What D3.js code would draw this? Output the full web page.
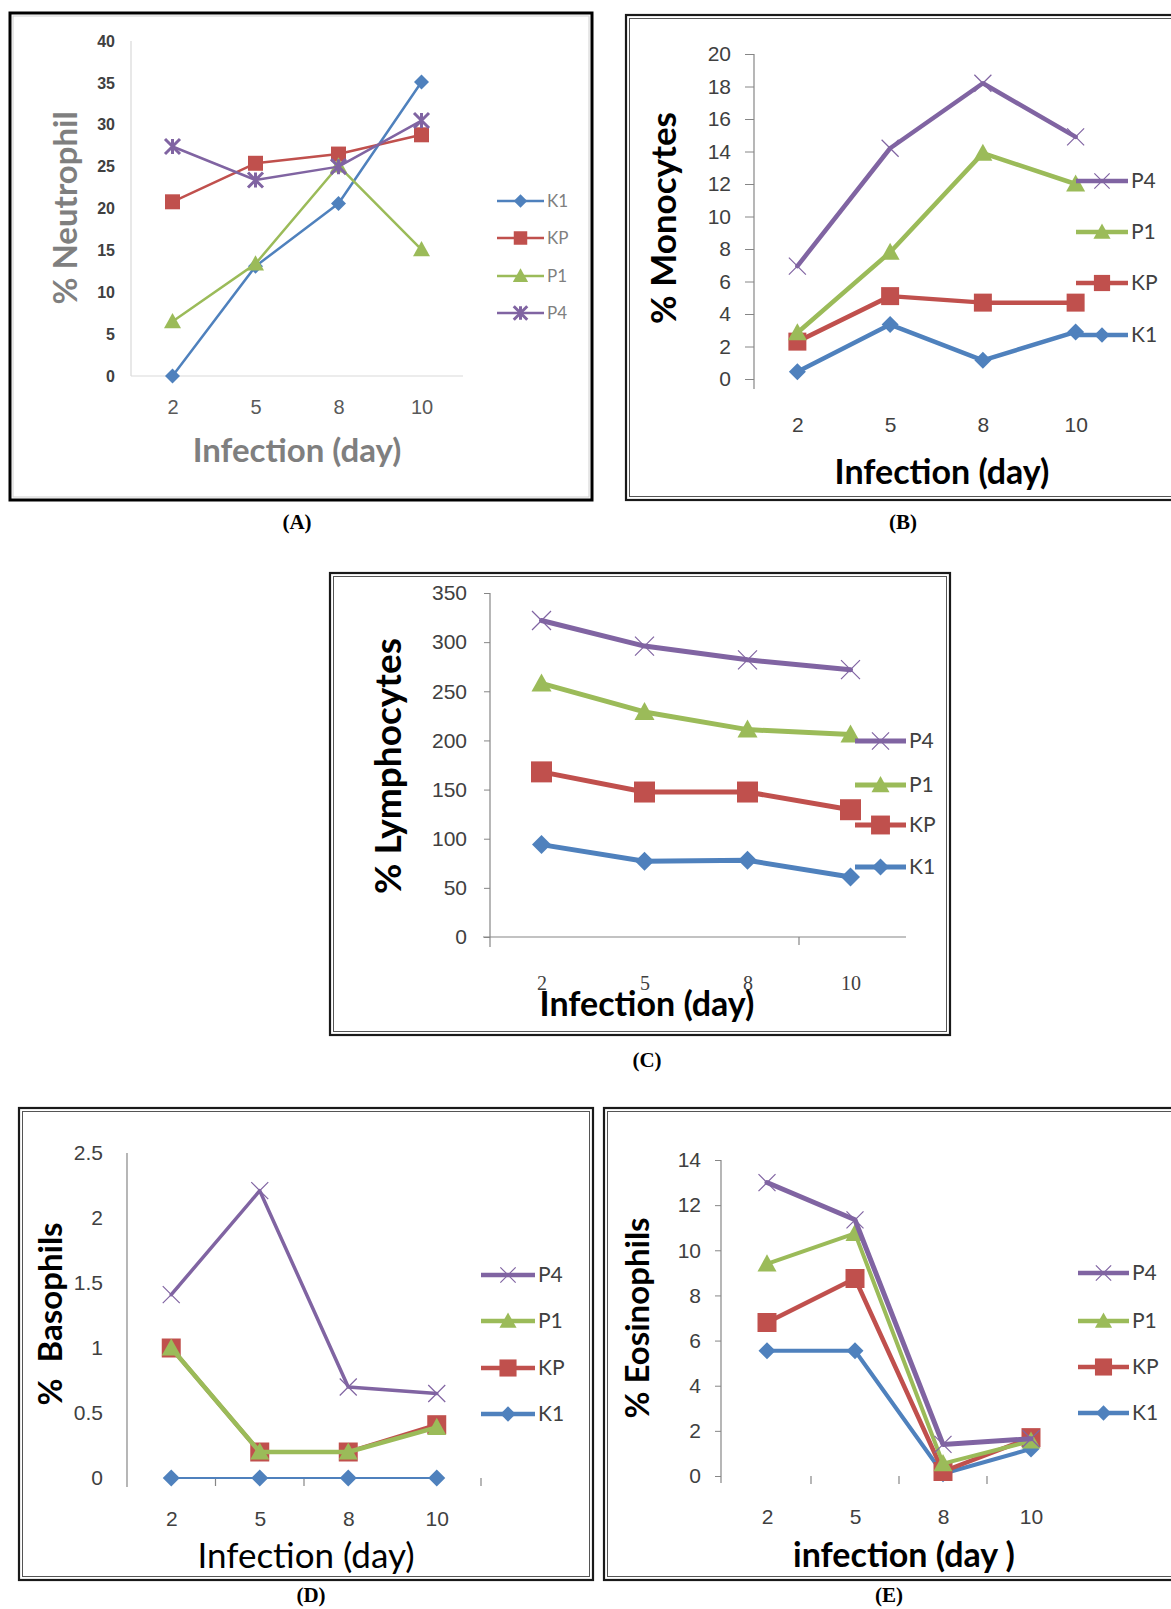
<html><head>
<meta charset="UTF-8">
<title>Leukocyte counts after infection</title>
<style>
  body { margin: 0; padding: 0; background: #fff; }
  svg { display: block; }
</style>
</head>
<body>
<div id="chart"></div>
<script src="https://cdn.jsdelivr.net/npm/d3@7"></script>
<script>
  // ---- data ----
  const days = ["2", "5", "8", "10"];
  const seriesNames = ["K1", "KP", "P1", "P4"];
  const seriesColors = ["#4f81bd", "#c0504d", "#9bbb59", "#8064a2"];

  // rows in series order: K1, KP, P1, P4
  const neutrophil = [
    [0, 13.1, 20.6, 35.1],
    [20.8, 25.4, 26.5, 28.8],
    [6.5, 13.4, 25.1, 15.1],
    [27.4, 23.4, 25.0, 30.5]
  ];
  const monocytes = [
    [0.45, 3.35, 1.15, 2.9],
    [2.3, 5.1, 4.7, 4.7],
    [2.85, 7.8, 13.9, 12.0],
    [6.95, 14.2, 18.2, 14.9]
  ];
  const lymphocytes = [
    [94, 77, 78, 61],
    [168, 147.5, 147.5, 129.5],
    [258, 229, 211, 206],
    [322, 296, 282, 272]
  ];
  const basophils = [
    [0, 0, 0, 0],
    [1.0, 0.2, 0.2, 0.41],
    [1.0, 0.2, 0.2, 0.39],
    [1.41, 2.21, 0.7, 0.65]
  ];
  const eosinophils = [
    [5.55, 5.55, 0.1, 1.2],
    [6.8, 8.75, 0.2, 1.7],
    [9.4, 10.75, 0.55, 1.55],
    [13.0, 11.35, 1.4, 1.65]
  ];

  const neutrophilTicks = [0, 5, 10, 15, 20, 25, 30, 35, 40];
  const monocyteTicks = [0, 2, 4, 6, 8, 10, 12, 14, 16, 18, 20];
  const lymphocyteTicks = [0, 50, 100, 150, 200, 250, 300, 350];
  const basophilTicks = [0, 0.5, 1, 1.5, 2, 2.5];
  const eosinophilTicks = [0, 2, 4, 6, 8, 10, 12, 14];

  const W = 1171, H = 1609;
  const svg = d3.select("#chart").append("svg")
    .attr("width", W).attr("height", H)
    .style("font-family", "Lato, 'Open Sans', sans-serif");
  svg.append("rect").attr("width", W).attr("height", H).attr("fill", "#fff");

  // marker shapes, r = half size
  function markerPath(kind, r) {
    if (kind === "diamond") return `M0,${-r}L${r},0L0,${r}L${-r},0Z`;
    if (kind === "square") return `M${-r},${-r}H${r}V${r}H${-r}Z`;
    if (kind === "triangle") return `M0,${-r}L${r},${r * 0.8}L${-r},${r * 0.8}Z`;
    return `M${-r},${-r}L${r},${r}M${r},${-r}L${-r},${r}`;
  }
  const markerKinds = ["diamond", "square", "triangle", "cross"];

  function drawMarker(g, kind, cx, cy, r, color, star) {
    if (kind === "cross") {
      let d = markerPath(kind, r);
      if (star) d += `M0,${-r}V${r}`;
      g.append("path").attr("transform", `translate(${cx},${cy})`)
        .attr("d", d).attr("fill", "none").attr("stroke", color)
        .attr("stroke-width", star ? 3 : 1.2);
    } else {
      g.append("path").attr("transform", `translate(${cx},${cy})`)
        .attr("d", markerPath(kind, r)).attr("fill", color);
    }
  }

  function frame(cfg) {
    const f = cfg.frame;
    if (cfg.frameStyle === "single") {
      svg.append("rect").attr("x", f.x).attr("y", f.y).attr("width", f.w).attr("height", f.h)
        .attr("fill", "none").attr("stroke", "#000").attr("stroke-width", 3);
      svg.append("rect").attr("x", f.x + 3).attr("y", f.y + 3).attr("width", f.w - 6).attr("height", f.h - 6)
        .attr("fill", "none").attr("stroke", "#d0d0d0").attr("stroke-width", 1);
    } else {
      svg.append("rect").attr("x", f.x).attr("y", f.y).attr("width", f.w).attr("height", f.h)
        .attr("fill", "none").attr("stroke", "#1a1a1a").attr("stroke-width", 2.2);
      svg.append("rect").attr("x", f.x + 3.5).attr("y", f.y + 3.5).attr("width", f.w - 7).attr("height", f.h - 7)
        .attr("fill", "none").attr("stroke", "#555").attr("stroke-width", 1);
    }
  }

  function panel(cfg) {
    frame(cfg);
    const g = svg.append("g");

    const x = d3.scalePoint().domain(days).range(cfg.xRange).padding(0.5);
    const y = d3.scaleLinear().domain([0, cfg.ticks[cfg.ticks.length - 1]]).range([cfg.y0, cfg.yTop]);

    // y axis
    const ya = g.append("g").attr("transform", `translate(${cfg.axisX},0)`)
      .call(d3.axisLeft(y).tickValues(cfg.ticks).tickSize(cfg.tickLen).tickPadding(cfg.tickPad)
        .tickFormat(d => String(d)));
    ya.select(".domain").remove();
    ya.selectAll("line").attr("stroke", cfg.axisColor);
    ya.selectAll("text").attr("fill", cfg.tickColor)
      .style("font-size", cfg.tickFont + "px")
      .style("font-weight", cfg.tickBold ? "bold" : "normal");
    g.append("line").attr("x1", cfg.axisX).attr("x2", cfg.axisX)
      .attr("y1", cfg.yTop).attr("y2", cfg.y0 + cfg.axisExtra)
      .attr("stroke", cfg.axisColor).attr("stroke-width", 1.2);

    // x axis line and band ticks
    if (cfg.xLine) {
      g.append("line").attr("x1", cfg.xLine[0]).attr("x2", cfg.xLine[1])
        .attr("y1", cfg.y0).attr("y2", cfg.y0)
        .attr("stroke", cfg.axisColor).attr("stroke-width", 1.2);
    }
    const step = x.step();
    (cfg.bandTicks || []).forEach(i => {
      const bx = cfg.xRange[0] + i * step;
      g.append("line").attr("x1", bx).attr("x2", bx)
        .attr("y1", cfg.y0).attr("y2", cfg.y0 + 8)
        .attr("stroke", cfg.axisColor).attr("stroke-width", 1.2);
    });

    // x tick labels
    const xa = g.append("g").attr("transform", `translate(0,${cfg.xLabelY})`)
      .call(d3.axisBottom(x).tickSize(0).tickPadding(0));
    xa.select(".domain").remove();
    xa.selectAll("text").attr("y", 0).attr("dy", "0.35em")
      .attr("fill", cfg.xTickColor || cfg.tickColor)
      .style("font-size", cfg.xTickFont + "px")
      .style("font-family", cfg.xTickFamily || null);

    // series
    const line = d3.line().x((d, i) => x(days[i])).y(d => y(d)).curve(d3.curveLinear);
    cfg.values.forEach((vals, s) => {
      g.append("path").attr("d", line(vals)).attr("fill", "none")
        .attr("stroke", seriesColors[s]).attr("stroke-width", cfg.lineW[s])
        .attr("stroke-linejoin", "round").attr("stroke-linecap", "round");
      vals.forEach((v, i) => drawMarker(g, markerKinds[s], x(days[i]), y(v), cfg.markR[s], seriesColors[s], cfg.star));
    });

    // titles
    g.append("text").attr("x", cfg.xTitle[0]).attr("y", cfg.xTitle[1]).attr("dy", "0.35em")
      .attr("text-anchor", "middle").attr("fill", cfg.titleColor)
      .style("font-size", cfg.xTitleFont + "px").style("font-weight", cfg.xTitleBold ? "bold" : "normal")
      .text(cfg.xTitleText);
    g.append("text").attr("transform", `translate(${cfg.yTitle[0]},${cfg.yTitle[1]}) rotate(-90)`)
      .attr("dy", "0.35em").attr("text-anchor", "middle").attr("fill", cfg.titleColor)
      .style("font-size", cfg.yTitleFont + "px").style("font-weight", "bold")
      .style("white-space", "pre")
      .text(cfg.yTitleText);

    // legend
    const lg = g.append("g");
    cfg.legendOrder.forEach((s, k) => {
      const ly = cfg.legendY[k];
      const [lx1, lx2] = cfg.legendX;
      lg.append("line").attr("x1", lx1).attr("x2", lx2).attr("y1", ly).attr("y2", ly)
        .attr("stroke", seriesColors[s]).attr("stroke-width", cfg.legendLineW);
      drawMarker(lg, markerKinds[s], (lx1 + lx2) / 2, ly, cfg.markR[s] * 0.9, seriesColors[s], cfg.star);
      lg.append("text").attr("x", lx2 + 3).attr("y", ly).attr("dy", "0.35em")
        .attr("fill", cfg.legendColor).style("font-size", cfg.legendFont + "px")
        .text(seriesNames[s]);
    });

    // caption
    svg.append("text").attr("x", cfg.caption[0]).attr("y", cfg.caption[1]).attr("dy", "0.35em")
      .attr("text-anchor", "middle")
      .style("font-family", "'Liberation Serif', 'DejaVu Serif', serif")
      .style("font-size", "21px").style("font-weight", "bold")
      .text(cfg.captionText);
  }

  panel({
    frame: { x: 10, y: 13, w: 582, h: 487 }, frameStyle: "single",
    values: neutrophil, ticks: neutrophilTicks,
    xRange: [131, 463], y0: 376, yTop: 41, axisX: 131, axisExtra: 0,
    tickLen: 0, tickPad: 16, tickFont: 16, tickBold: true, xTickFont: 20,
    axisColor: "#d9d9d9", tickColor: "#404040", xTickColor: "#595959", xLine: [131, 463],
    xLabelY: 407, lineW: [2.5, 2.5, 2.5, 2.5], markR: [7.5, 7.5, 8.5, 7.5], star: true,
    xTitle: [297, 450], xTitleText: "Infection (day)", xTitleFont: 33, xTitleBold: true,
    yTitle: [65, 208], yTitleText: "% Neutrophil", yTitleFont: 33, titleColor: "#7f7f7f",
    legendOrder: [0, 1, 2, 3], legendY: [201, 238, 276, 313], legendX: [497, 544],
    legendLineW: 2.5, legendFont: 17, legendColor: "#7f7f7f",
    caption: [297, 522], captionText: "(A)"
  });

  panel({
    frame: { x: 626, y: 15, w: 600, h: 485 }, frameStyle: "double",
    values: monocytes, ticks: monocyteTicks,
    xRange: [751, 1122], y0: 379, yTop: 54, axisX: 754, axisExtra: 10,
    tickLen: 9, tickPad: 14, tickFont: 21, tickBold: false, xTickFont: 21,
    axisColor: "#868686", tickColor: "#404040", xLine: null,
    xLabelY: 425, lineW: [4.5, 4.5, 4.5, 4.5], markR: [8.5, 9, 9.5, 8.5], star: false,
    xTitle: [942, 472], xTitleText: "Infection (day)", xTitleFont: 34, xTitleBold: true,
    yTitle: [664, 218], yTitleText: "% Monocytes", yTitleFont: 35, titleColor: "#000",
    legendOrder: [3, 2, 1, 0], legendY: [181, 232, 283, 335], legendX: [1076, 1128],
    legendLineW: 4.5, legendFont: 21, legendColor: "#404040",
    caption: [903, 522], captionText: "(B)"
  });

  panel({
    frame: { x: 330, y: 573, w: 620, h: 462 }, frameStyle: "double",
    values: lymphocytes, ticks: lymphocyteTicks,
    xRange: [490, 902], y0: 937, yTop: 593, axisX: 490, axisExtra: 10,
    tickLen: 6, tickPad: 17, tickFont: 21, tickBold: false, xTickFont: 20,
    xTickFamily: "'Liberation Serif', serif",
    axisColor: "#868686", tickColor: "#404040", xLine: [483, 906], bandTicks: [3],
    xLabelY: 983, lineW: [5, 5, 5, 5], markR: [9.5, 10.5, 10, 9.5], star: false,
    xTitle: [647, 1004], xTitleText: "Infection (day)", xTitleFont: 34, xTitleBold: true,
    yTitle: [388, 766], yTitleText: "% Lymphocytes", yTitleFont: 37, titleColor: "#000",
    legendOrder: [3, 2, 1, 0], legendY: [741, 785, 825, 867], legendX: [855, 906],
    legendLineW: 5, legendFont: 21, legendColor: "#404040",
    caption: [647, 1060], captionText: "(C)"
  });

  panel({
    frame: { x: 19, y: 1108, w: 574, h: 472 }, frameStyle: "double",
    values: basophils, ticks: basophilTicks,
    xRange: [127, 481], y0: 1478, yTop: 1153, axisX: 127, axisExtra: 9,
    tickLen: 0, tickPad: 24, tickFont: 21, tickBold: false, xTickFont: 21,
    axisColor: "#868686", tickColor: "#404040", xLine: null, bandTicks: [1, 2, 4],
    xLabelY: 1519, lineW: [2, 4, 4.5, 3.5], markR: [8.5, 9.5, 9.5, 8.5], star: false,
    xTitle: [306, 1556], xTitleText: "Infection (day)", xTitleFont: 35, xTitleBold: false,
    yTitle: [50, 1314], yTitleText: "%  Basophils", yTitleFont: 33, titleColor: "#000",
    legendOrder: [3, 2, 1, 0], legendY: [1275, 1321, 1368, 1414], legendX: [481, 535],
    legendLineW: 4.5, legendFont: 21, legendColor: "#404040",
    caption: [311, 1595], captionText: "(D)"
  });

  panel({
    frame: { x: 604, y: 1108, w: 600, h: 472 }, frameStyle: "double",
    values: eosinophils, ticks: eosinophilTicks,
    xRange: [723, 1075], y0: 1476, yTop: 1160, axisX: 721, axisExtra: 7,
    tickLen: 6, tickPad: 14, tickFont: 21, tickBold: false, xTickFont: 21,
    axisColor: "#868686", tickColor: "#404040", xLine: null, bandTicks: [1, 2, 3],
    xLabelY: 1517, lineW: [4, 4.5, 4, 5], markR: [8.5, 9.5, 9.5, 8.5], star: false,
    xTitle: [904, 1555], xTitleText: "infection (day )", xTitleFont: 34, xTitleBold: true,
    yTitle: [637, 1318], yTitleText: "% Eosinophils", yTitleFont: 33, titleColor: "#000",
    legendOrder: [3, 2, 1, 0], legendY: [1273, 1321, 1367, 1413], legendX: [1078, 1129],
    legendLineW: 4.5, legendFont: 21, legendColor: "#404040",
    caption: [889, 1595], captionText: "(E)"
  });
</script>
</body></html>
